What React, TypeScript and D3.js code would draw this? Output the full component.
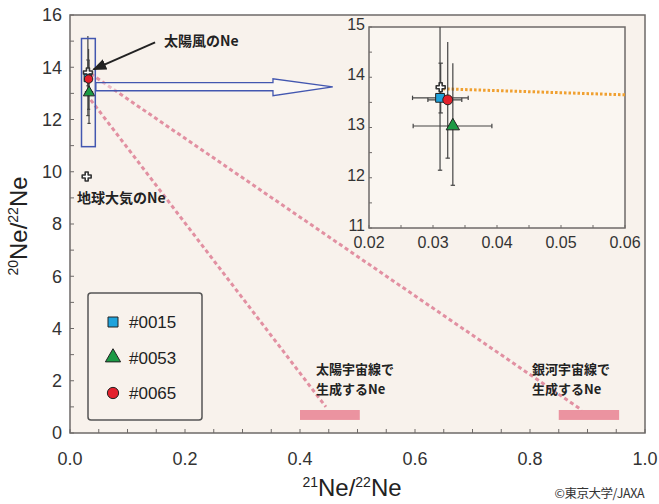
import React from 'react';
import * as d3 from 'd3';

// samples: x = 21Ne/22Ne, y = 20Ne/22Ne, with error ranges
const sampleNames = ['#0015', '#0053', '#0065'];
const sampleX = [0.0311, 0.0331, 0.0323];
const sampleY = [13.59, 13.03, 13.55];
const sampleXErr = [[0.0268, 0.0355], [0.0269, 0.0392], [0.0292, 0.0345]];
const sampleYErr = [[12.15, 15.2], [11.85, 14.28], [12.39, 14.7]];
const sampleColors = ['#1fa3dc', '#1c9a45', '#e3202c'];
const sampleShapes = ['square', 'triangle', 'circle'];

// reference components
const solarWind = { x: 0.0312, y: 13.8, yErr: [13.29, 14.28] };
const earthAir = { x: 0.029, y: 9.82 };
const solarCR = { x: [0.4, 0.504], y: [0.5, 0.88] };
const galacticCR = { x: [0.85, 0.955], y: [0.5, 0.88] };

// mixing lines (dashed pink) and the inset's orange line
const mixLines = [
  [[0.036, 12.75], [0.445, 1.0]],
  [[0.036, 13.75], [0.89, 0.88]],
];
const insetLine = [[0.0315, 13.77], [0.06, 13.65]];

const mainXTicks = [0, 0.2, 0.4, 0.6, 0.8, 1.0];
const mainYTicks = [0, 2, 4, 6, 8, 10, 12, 14, 16];
const insetXTicks = [0.02, 0.03, 0.04, 0.05, 0.06];
const insetYTicks = [11, 12, 13, 14, 15];

const W = 659;
const H = 504;

const x = d3.scaleLinear().domain([0, 1]).range([70, 645]);
const y = d3.scaleLinear().domain([0, 16]).range([433, 15]);
const ix = d3.scaleLinear().domain([0.02, 0.06]).range([369, 625]);
const iy = d3.scaleLinear().domain([11, 15]).range([228, 27]);

const bg = '#f8f2ec';
const frame = '#6e6a68';
const pink = '#e0869a';
const tickFont = 'Liberation Sans, Arial, sans-serif';
const jpFont = '"Noto Sans CJK JP", sans-serif';

type Sc = d3.ScaleLinear<number, number>;

function Marker({ shape, cx, cy, size, color }: { shape: string; cx: number; cy: number; size: number; color: string }) {
  const sym = shape === 'square' ? d3.symbolSquare : shape === 'triangle' ? d3.symbolTriangle : d3.symbolCircle;
  const path = d3.symbol().type(sym).size(size)()!;
  return <path d={path} transform={`translate(${cx},${cy})`} fill={color} stroke="#222" strokeWidth={1} />;
}

function Flower({ cx, cy, r }: { cx: number; cy: number; r: number }) {
  const path = d3.symbol().type(d3.symbolCross).size(r * r * 2.2)()!;
  return <path d={path} transform={`translate(${cx},${cy})`} fill="#fff" stroke="#333" strokeWidth={1.6} strokeLinejoin="round" />;
}

function Points({ sx, sy, scale }: { sx: Sc; sy: Sc; scale: number }) {
  const cap = 2 * scale;
  return (
    <g>
      {sampleNames.map((n, i) => (
        <g key={n} stroke="#444" strokeWidth={1.2}>
          <line x1={sx(sampleX[i])} x2={sx(sampleX[i])} y1={sy(Math.min(sampleYErr[i][1], sy.domain()[1]))} y2={sy(sampleYErr[i][0])} />
          <line x1={sx(sampleX[i]) - cap} x2={sx(sampleX[i]) + cap} y1={sy(sampleYErr[i][0])} y2={sy(sampleYErr[i][0])} />
          <line x1={sx(sampleXErr[i][0])} x2={sx(sampleXErr[i][1])} y1={sy(sampleY[i])} y2={sy(sampleY[i])} />
          <line x1={sx(sampleXErr[i][0])} x2={sx(sampleXErr[i][0])} y1={sy(sampleY[i]) - cap} y2={sy(sampleY[i]) + cap} />
          <line x1={sx(sampleXErr[i][1])} x2={sx(sampleXErr[i][1])} y1={sy(sampleY[i]) - cap} y2={sy(sampleY[i]) + cap} />
        </g>
      ))}
      <g stroke="#444" strokeWidth={1.2}>
        <line x1={sx(solarWind.x)} x2={sx(solarWind.x)} y1={sy(solarWind.yErr[0])} y2={sy(solarWind.yErr[1])} />
        <line x1={sx(solarWind.x) - cap} x2={sx(solarWind.x) + cap} y1={sy(solarWind.yErr[0])} y2={sy(solarWind.yErr[0])} />
        <line x1={sx(solarWind.x) - cap} x2={sx(solarWind.x) + cap} y1={sy(solarWind.yErr[1])} y2={sy(solarWind.yErr[1])} />
      </g>
      <Flower cx={sx(solarWind.x)} cy={sy(solarWind.y)} r={4.5} />
      {sampleNames.map((n, i) => (
        <Marker key={n} shape={sampleShapes[i]} cx={sx(sampleX[i])} cy={sy(sampleY[i])} size={scale * 70} color={sampleColors[i]} />
      ))}
    </g>
  );
}

export default function App() {
  const xMinor = d3.range(0, 1.0001, 0.05);
  const yMinor = d3.range(0, 16.0001, 1);
  const ixMinor = d3.range(0.02, 0.06001, 0.005);
  const iyMinor = d3.range(11, 15.0001, 0.5);

  // hollow arrow from the box to the inset
  const ax0 = x(0.045), axH = x(0.353), axT = x(0.457);
  const ay0 = y(13.41), ay1 = y(13.1), ayH0 = y(13.56), ayH1 = y(12.91), ayT = y(13.25);
  const hollow = `M${ax0},${ay0} L${axH},${ay0} L${axH},${ayH0} L${axT},${ayT} L${axH},${ayH1} L${axH},${ay1} L${ax0},${ay1} Z`;

  return (
    <svg width={W} height={H} style={{ display: 'block', position: 'absolute', left: 0, top: 0 }}>
      <defs>
        <marker id="ah" viewBox="0 0 10 10" refX="9" refY="5" markerWidth="7" markerHeight="7" orient="auto">
          <path d="M0,1 L10,5 L0,9 z" fill="#222" />
        </marker>
        <clipPath id="mainclip"><rect x={70} y={15} width={575} height={418} /></clipPath>
        <clipPath id="insetclip"><rect x={369} y={27} width={256} height={201} /></clipPath>
      </defs>
      <rect width={W} height={H} fill="#fff" />
      <rect x={70} y={15} width={575} height={418} fill={bg} stroke={frame} strokeWidth={1.5} />

      {/* main ticks */}
      {xMinor.map((t) => (
        <line key={'xm' + t} x1={x(t)} x2={x(t)} y1={433} y2={429} stroke={frame} />
      ))}
      {yMinor.map((t) => (
        <line key={'ym' + t} x1={70} x2={74} y1={y(t)} y2={y(t)} stroke={frame} />
      ))}
      {mainXTicks.map((t) => (
        <text key={'xt' + t} x={x(t)} y={465} textAnchor="middle" fontFamily={tickFont} fontSize={18} fill="#333">{t.toFixed(1)}</text>
      ))}
      {mainYTicks.map((t) => (
        <text key={'yt' + t} x={62} y={y(t)} dy="0.36em" textAnchor="end" fontFamily={tickFont} fontSize={18} fill="#333">{t}</text>
      ))}

      <g clipPath="url(#mainclip)">
        {/* cosmic-ray end-members */}
        {[solarCR, galacticCR].map((c, i) => (
          <rect key={i} x={x(c.x[0])} y={y(c.y[1])} width={x(c.x[1]) - x(c.x[0])} height={y(c.y[0]) - y(c.y[1])} fill="#eb93a0" />
        ))}
        {mixLines.map((l, i) => (
          <line key={i} x1={x(l[0][0])} y1={y(l[0][1])} x2={x(l[1][0])} y2={y(l[1][1])} stroke={pink} strokeWidth={3} strokeDasharray="4,3" opacity={0.9} />
        ))}
        <Points sx={x} sy={y} scale={0.8} />
        <Flower cx={x(earthAir.x)} cy={y(earthAir.y)} r={4.5} />
        <rect x={x(0.02)} y={y(15.1)} width={x(0.044) - x(0.02)} height={y(10.96) - y(15.1)} fill="none" stroke="#4357b0" strokeWidth={1.5} />
        <path d={hollow} fill="#fff" fillOpacity={0.4} stroke="#4357b0" strokeWidth={1.3} />
      </g>

      <line x1={x(0.148)} y1={y(14.95)} x2={x(0.041)} y2={y(13.92)} stroke="#222" strokeWidth={2} markerEnd="url(#ah)" />

      {/* annotations */}
      <g fontFamily={jpFont} fontWeight="bold" fontSize={14} fill="#222">
        <text x={164} y={46}>太陽風のNe</text>
        <text x={77} y={203}>地球大気のNe</text>
      </g>
      <g fontFamily={jpFont} fontWeight="bold" fontSize={13} fill="#222">
        <text x={316} y={374}>太陽宇宙線で</text>
        <text x={316} y={394}>生成するNe</text>
        <text x={532} y={374}>銀河宇宙線で</text>
        <text x={532} y={394}>生成するNe</text>
      </g>

      {/* legend */}
      <rect x={88} y={293} width={114} height={127} rx={3} fill="none" stroke="#555" strokeWidth={1.5} />
      {sampleNames.map((n, i) => (
        <g key={n}>
          <Marker shape={sampleShapes[i]} cx={113} cy={322 + i * 35.5} size={100} color={sampleColors[i]} />
          <text x={129} y={322 + i * 35.5} dy="0.36em" fontFamily={tickFont} fontSize={17} fill="#222">{n}</text>
        </g>
      ))}

      {/* inset */}
      <rect x={369} y={27} width={256} height={201} fill="#faf6f1" stroke={frame} strokeWidth={1.5} />
      {ixMinor.map((t) => (
        <line key={'ixm' + t} x1={ix(t)} x2={ix(t)} y1={228} y2={225} stroke={frame} />
      ))}
      {iyMinor.map((t) => (
        <line key={'iym' + t} x1={369} x2={372} y1={iy(t)} y2={iy(t)} stroke={frame} />
      ))}
      {insetXTicks.map((t) => (
        <text key={'ixt' + t} x={ix(t)} y={248} textAnchor="middle" fontFamily={tickFont} fontSize={16} fill="#333">{t.toFixed(2)}</text>
      ))}
      {insetYTicks.map((t) => (
        <text key={'iyt' + t} x={365} y={iy(t) - 3} dy="0.36em" textAnchor="end" fontFamily={tickFont} fontSize={16} fill="#333">{t}</text>
      ))}
      <g clipPath="url(#insetclip)">
        <line x1={ix(insetLine[0][0])} y1={iy(insetLine[0][1])} x2={ix(insetLine[1][0])} y2={iy(insetLine[1][1])} stroke="#f0a030" strokeWidth={3} strokeDasharray="2.5,2" />
        <Points sx={ix} sy={iy} scale={1.1} />
      </g>

      {/* axis titles */}
      <text x={352} y={496} textAnchor="middle" fontFamily={tickFont} fontSize={24} fill="#222">
        <tspan fontSize={14} dy="-9">21</tspan>
        <tspan dy="9">Ne/</tspan>
        <tspan fontSize={14} dy="-9">22</tspan>
        <tspan dy="9">Ne</tspan>
      </text>
      <text transform="translate(27,226) rotate(-90)" textAnchor="middle" fontFamily={tickFont} fontSize={24} fill="#222">
        <tspan fontSize={14} dy="-9">20</tspan>
        <tspan dy="9">Ne/</tspan>
        <tspan fontSize={14} dy="-9">22</tspan>
        <tspan dy="9">Ne</tspan>
      </text>
      <text x={644} y={498} textAnchor="end" fontFamily={jpFont} fontSize={12.5} fill="#333" letterSpacing={-0.5}>©東京大学/JAXA</text>
    </svg>
  );
}
